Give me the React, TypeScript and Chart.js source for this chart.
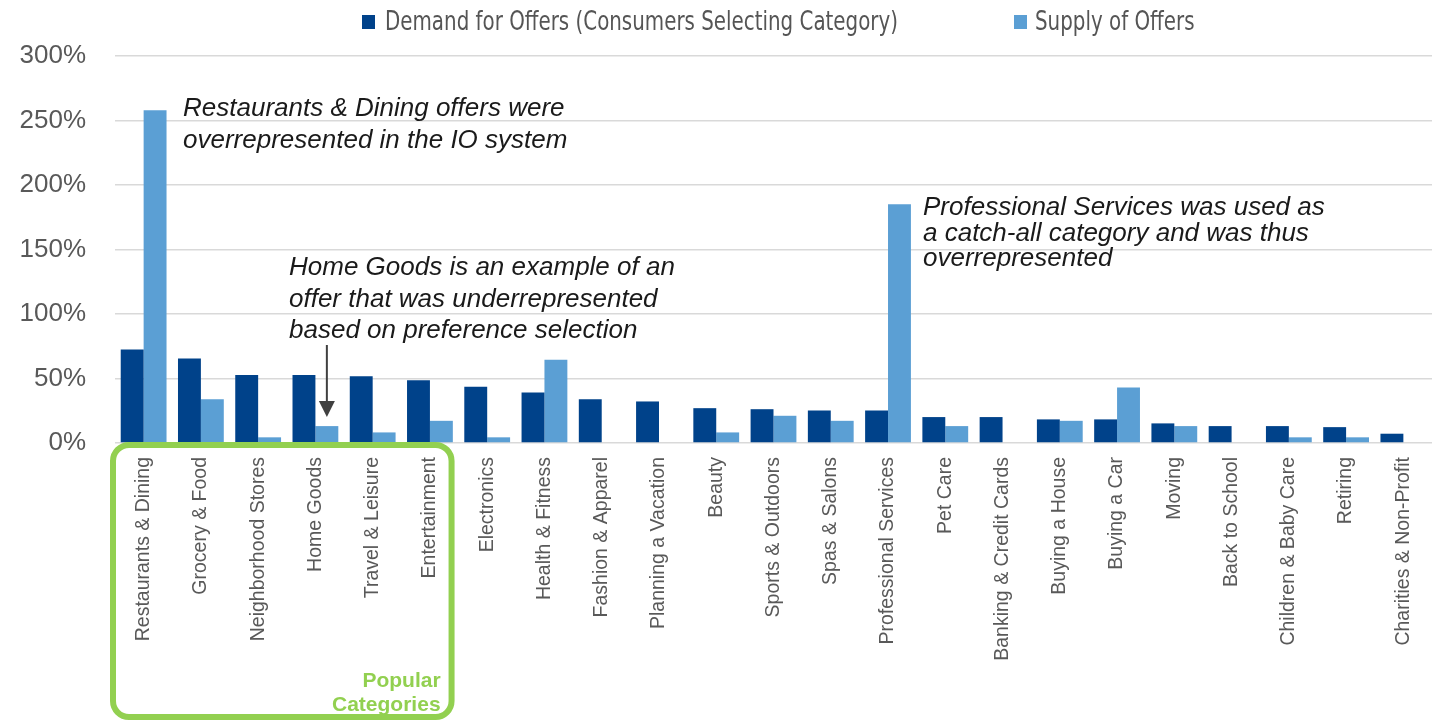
import React, { useEffect, useRef } from "react";
import { Chart, registerables } from "chart.js";

Chart.register(...registerables);

const categories = [
  "Restaurants & Dining",
  "Grocery & Food",
  "Neighborhood Stores",
  "Home Goods",
  "Travel & Leisure",
  "Entertainment",
  "Electronics",
  "Health & Fitness",
  "Fashion & Apparel",
  "Planning a Vacation",
  "Beauty",
  "Sports & Outdoors",
  "Spas & Salons",
  "Professional Services",
  "Pet Care",
  "Banking & Credit Cards",
  "Buying a House",
  "Buying a Car",
  "Moving",
  "Back to School",
  "Children & Baby Care",
  "Retiring",
  "Charities & Non-Profit",
];

const demandValues = [72.5, 65.6, 52.7, 52.7, 51.7, 48.6, 43.7, 39.1, 34.0, 32.2, 27.0, 26.2, 25.2, 25.2, 20.1, 20.1, 18.3, 18.3, 15.2, 13.1, 13.1, 12.3, 7.2];
const supplyValues = [258, 34.0, 4.4, 13.1, 8.2, 17.2, 4.4, 64.6, 0, 0, 8.2, 21.1, 17.2, 185, 13.1, 0, 17.2, 43.0, 13.1, 0, 4.4, 4.4, 0];

const seriesLabels = ["Demand for Offers (Consumers Selecting Category)", "Supply of Offers"];
const seriesColors = ["#00428A", "#5B9FD4"];

const yMin = 0;
const yMax = 300;
const yStep = 50;

const noteRestaurants = ["Restaurants & Dining offers were", "overrepresented in the IO system"];
const noteHomeGoods = ["Home Goods is an example of an", "offer that was underrepresented", "based on preference selection"];
const noteProfessional = ["Professional Services was used as", "a catch-all category and was thus", "overrepresented"];
const popularLabel = ["Popular", "Categories"];
const popularCount = 6;

const overlayPlugin = {
  id: "overlay",
  afterDraw(chart: any) {
    const ctx = chart.ctx as CanvasRenderingContext2D;
    const xs = chart.scales.x;
    const ys = chart.scales.y;

    // Legend
    ctx.save();
    const legendFont = '27px "Liberation Sans Narrow", "DejaVu Sans Condensed", "Liberation Sans", sans-serif';
    ctx.font = legendFont;
    const w0 = ctx.measureText(seriesLabels[0]).width;
    const sx = 513 / w0;
    const items = [
      { sq: 362, tx: 385 },
      { sq: 1014, tx: 1035 },
    ];
    items.forEach((it, i) => {
      ctx.fillStyle = seriesColors[i];
      ctx.fillRect(it.sq, 15, 13, 14);
      ctx.save();
      ctx.translate(it.tx, 22);
      ctx.scale(sx, 1);
      ctx.fillStyle = "#555555";
      ctx.textBaseline = "middle";
      ctx.textAlign = "left";
      ctx.font = legendFont;
      ctx.fillText(seriesLabels[i], 0, 1);
      ctx.restore();
    });
    ctx.restore();

    // Annotations
    ctx.save();
    ctx.font = 'italic 26px "Liberation Sans", Arial, sans-serif';
    ctx.fillStyle = "#1a1a1a";
    ctx.textAlign = "left";
    ctx.textBaseline = "alphabetic";
    noteRestaurants.forEach((t, i) => ctx.fillText(t, 183, 116 + i * 32));
    noteHomeGoods.forEach((t, i) => ctx.fillText(t, 289, 275 + i * 31.5));
    noteProfessional.forEach((t, i) => ctx.fillText(t, 923, 215 + i * 25.5));
    ctx.restore();

    // Arrow to Home Goods supply bar
    const catW = xs.getPixelForValue(1) - xs.getPixelForValue(0);
    const ax = xs.getPixelForValue(3) + catW * 0.2;
    const tipY = ys.getPixelForValue(supplyValues[3]) - 9;
    ctx.save();
    ctx.strokeStyle = "#404040";
    ctx.fillStyle = "#404040";
    ctx.lineWidth = 2;
    ctx.beginPath();
    ctx.moveTo(ax, 345);
    ctx.lineTo(ax, tipY - 14);
    ctx.stroke();
    ctx.beginPath();
    ctx.moveTo(ax - 8, tipY - 16);
    ctx.lineTo(ax + 8, tipY - 16);
    ctx.lineTo(ax, tipY);
    ctx.closePath();
    ctx.fill();
    ctx.restore();

    // Popular categories box
    const left = xs.getPixelForValue(0) - catW / 2 - 2;
    const right = xs.getPixelForValue(popularCount - 1) + catW / 2 - 7;
    const top = ys.getPixelForValue(0) + 2;
    const bottom = 717;
    ctx.save();
    ctx.strokeStyle = "#92D050";
    ctx.lineWidth = 6;
    ctx.beginPath();
    (ctx as any).roundRect(left, top, right - left, bottom - top, 16);
    ctx.stroke();
    ctx.fillStyle = "#92D050";
    ctx.font = 'bold 21px "Liberation Sans", Arial, sans-serif';
    ctx.textAlign = "right";
    ctx.textBaseline = "alphabetic";
    ctx.fillText(popularLabel[0], right - 11, 687);
    ctx.fillText(popularLabel[1], right - 11, 711);
    ctx.restore();
  },
};

export default function App() {
  const ref = useRef<HTMLCanvasElement | null>(null);

  useEffect(() => {
    if (!ref.current) return;
    const chart = new Chart(ref.current, {
      type: "bar",
      data: {
        labels: categories,
        datasets: [
          {
            label: seriesLabels[0],
            data: demandValues,
            backgroundColor: seriesColors[0],
            categoryPercentage: 0.8,
            barPercentage: 1.0,
          },
          {
            label: seriesLabels[1],
            data: supplyValues,
            backgroundColor: seriesColors[1],
            categoryPercentage: 0.8,
            barPercentage: 1.0,
          },
        ],
      },
      options: {
        responsive: false,
        animation: false,
        devicePixelRatio: 1,
        layout: { padding: { left: 18, right: 0, top: 56, bottom: 0 } },
        plugins: {
          legend: { display: false },
          tooltip: { enabled: false },
        },
        scales: {
          x: {
            grid: { display: false, drawTicks: false },
            border: { display: false },
            ticks: {
              autoSkip: false,
              minRotation: 90,
              maxRotation: 90,
              padding: 14,
              color: "#595959",
              font: { family: '"Liberation Sans", Arial, sans-serif', size: 19.5 },
            },
            afterFit(scale: any) {
              scale.height = 281;
              scale.paddingLeft = 0;
              scale.paddingRight = 0;
            },
          },
          y: {
            min: yMin,
            max: yMax,
            grid: { color: "#d9d9d9", lineWidth: 1.5, drawTicks: false },
            border: { display: false },
            ticks: {
              stepSize: yStep,
              padding: 29,
              color: "#595959",
              font: { family: '"Liberation Sans", Arial, sans-serif', size: 26 },
              callback: (v: any) => `${v}%`,
            },
            afterFit(scale: any) {
              scale.width = 97;
            },
          },
        },
      },
      plugins: [overlayPlugin],
    });
    return () => chart.destroy();
  }, []);

  return (
    <div style={{ position: "absolute", left: 0, top: 0, width: 1432, height: 724, background: "#fff" }}>
      <canvas ref={ref} width={1432} height={724} style={{ width: 1432, height: 724 }} />
    </div>
  );
}
